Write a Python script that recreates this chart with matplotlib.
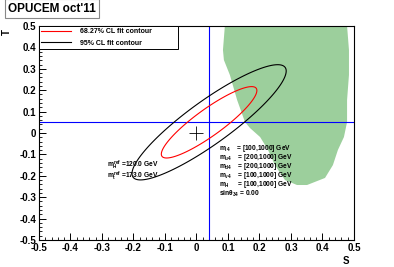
import numpy as np
import matplotlib
matplotlib.use("Agg")
import matplotlib.pyplot as plt
from matplotlib.lines import Line2D

plt.rcParams['font.family'] = ['Liberation Sans', 'DejaVu Sans']
plt.rcParams['font.weight'] = 'bold'
plt.rcParams['mathtext.fontset'] = 'custom'
plt.rcParams['mathtext.rm'] = 'Liberation Sans:bold'
plt.rcParams['mathtext.it'] = 'Liberation Sans:bold'

# fit result (S, T) with errors and correlation
fit_S, fit_T = 0.04, 0.05
err_S, err_T = 0.10, 0.11
rho = 0.89
cl_levels = [2.30, 5.99]      # 68.27% and 95% for 2 dof
cl_colors = ["red", "black"]
cl_labels = ["68.27% CL fit contour", "95% CL fit contour"]

# SM reference point
ref_S, ref_T = 0.0, 0.0

# 4th generation allowed region
green_S = [0.090, 0.084, 0.087, 0.106, 0.129, 0.154, 0.170, 0.202, 0.227, 0.249,
           0.281, 0.319, 0.351, 0.408, 0.433, 0.449, 0.468, 0.478, 0.478, 0.484,
           0.484, 0.478]
green_T = [0.500, 0.388, 0.341, 0.271, 0.154, 0.051, 0.023, -0.019, -0.079, -0.150,
           -0.220, -0.243, -0.243, -0.210, -0.150, -0.079, -0.019, 0.051, 0.154, 0.271,
           0.388, 0.500]

ticks = [-0.5, -0.4, -0.3, -0.2, -0.1, 0, 0.1, 0.2, 0.3, 0.4, 0.5]
tick_labels = ["-0.5", "-0.4", "-0.3", "-0.2", "-0.1", "0", "0.1", "0.2", "0.3", "0.4", "0.5"]

fig = plt.figure(figsize=(3.94, 2.67), dpi=100)
ax = fig.add_axes([39/394, 1 - 240/267, 315/394, 214/267])

ax.fill(green_S, green_T, color="#9ccf9c", lw=0, zorder=1)

# chi2 grid for the ellipses
ss, tt = np.meshgrid(np.linspace(-0.5, 0.5, 400), np.linspace(-0.5, 0.5, 400))
ds = (ss - fit_S) / err_S
dt = (tt - fit_T) / err_T
chi2 = (ds**2 - 2*rho*ds*dt + dt**2) / (1 - rho**2)
ax.contour(ss, tt, chi2, levels=cl_levels, colors=cl_colors, linewidths=0.8, zorder=3)

ax.axvline(fit_S, color="blue", lw=0.8, zorder=2)
ax.axhline(fit_T, color="blue", lw=0.8, zorder=2)
ax.plot(ref_S, ref_T, marker="+", color="black", markersize=10, mew=0.6, zorder=4)

ax.set_xlim(-0.5, 0.5)
ax.set_ylim(-0.5, 0.5)
ax.set_xticks(ticks)
ax.set_xticklabels(tick_labels)
ax.set_yticks(ticks)
ax.set_yticklabels(tick_labels)
ax.set_xticks(np.arange(-0.5, 0.501, 0.02), minor=True)
ax.set_yticks(np.arange(-0.5, 0.501, 0.02), minor=True)
ax.tick_params(which="both", direction="in", top=False, right=False, labelsize=7)
ax.tick_params(which="major", length=5, width=0.7, pad=2)
ax.tick_params(which="minor", length=2.5, width=0.6)
for sp in ax.spines.values():
    sp.set_linewidth(0.8)

ax.set_xlabel("S", fontsize=7, fontweight="bold")
ax.xaxis.set_label_coords(0.975, -0.075)
fig.text(7/394, 1 - 32/267, "T", fontsize=7, fontweight="bold", rotation=90,
         ha="center", va="center")

handles = [Line2D([], [], color=c, lw=0.8) for c in cl_colors]
leg = fig.legend(handles, cl_labels, loc="upper left",
                 bbox_to_anchor=(39/394, 1 - 26/267, 139/394, 0.0), mode="expand",
                 fontsize=5, frameon=True, fancybox=False, edgecolor="black",
                 framealpha=1, borderpad=0.35, handlelength=4.2, handletextpad=1.3,
                 labelspacing=0.6, borderaxespad=0)
leg.get_frame().set_linewidth(0.7)
leg.set_zorder(10)

ax.text(0.5 + (107 - 354)/315, 0.5 - (171 - 26)/214,
        "$m_H^{ref}$ =120.0 GeV\n$m_t^{ref}$ =173.0 GeV",
        fontsize=4.8, va="center", ha="left", linespacing=0.75, zorder=5)
ax.text(0.5 + (219 - 354)/315, 0.5 - (171 - 26)/214,
        "$m_{l4}$    = [100,1000] GeV\n$m_{u4}$    = [200,1000] GeV\n"
        "$m_{d4}$    = [200,1000] GeV\n$m_{\\nu4}$    = [100,1000] GeV\n"
        "$m_H$     = [100,1000] GeV\nsin$\\theta_{34}$ = 0.00",
        fontsize=4.8, va="center", ha="left", linespacing=0.72, zorder=5)

fig.text(52/394, 1 - 8.5/267, "OPUCEM oct'11", fontsize=8.5, fontweight="bold",
         ha="center", va="center",
         bbox=dict(boxstyle="square,pad=0.3", facecolor="white", edgecolor="#888888", lw=0.8))

fig.savefig("out.png", dpi=100)
